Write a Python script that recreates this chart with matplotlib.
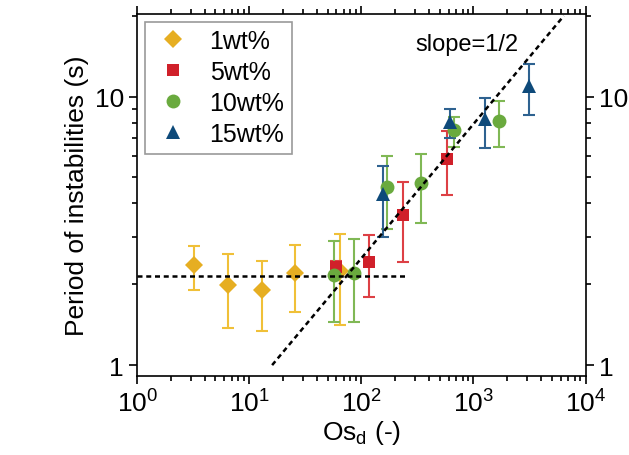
import matplotlib
matplotlib.use("Agg")
import matplotlib.pyplot as plt
import numpy as np

plt.rcParams['font.family'] = ['Liberation Sans', 'DejaVu Sans']

# data: Os_d, period, error bar low/high
os_1 = [3.2, 6.5, 13.0, 25.7, 64.5]
t_1 = [2.35, 1.99, 1.90, 2.21, 2.25]
lo_1 = [1.91, 1.38, 1.34, 1.58, 1.41]
hi_1 = [2.77, 2.60, 2.45, 2.81, 3.08]

os_5 = [59.4, 118, 236, 586]
t_5 = [2.32, 2.43, 3.63, 5.87]
lo_5 = [2.15, 1.79, 2.42, 4.30]
hi_5 = [2.45, 3.05, 4.82, 7.42]

os_10 = [56.6, 85.4, 171, 341, 667, 1683]
t_10 = [2.16, 2.20, 4.62, 4.75, 7.49, 8.09]
lo_10 = [1.45, 1.45, 3.20, 3.37, 6.51, 6.48]
hi_10 = [2.89, 2.94, 5.99, 6.13, 8.40, 9.61]

os_15 = [157, 620, 1262, 3119]
t_15 = [4.33, 8.07, 8.28, 10.95]
lo_15 = [3.01, 7.03, 6.46, 8.54]
hi_15 = [5.51, 9.02, 9.91, 13.2]

# reference lines
plateau = 2.15
plateau_x = [1, 250]
slope_x = [16, 6400]
slope_y0 = 1.0  # value at x = 16

fig = plt.figure(figsize=(6.29, 4.56), dpi=100)
ax = fig.add_axes([0.218, 0.173, 0.713, 0.794])

series = [
    (os_1, t_1, lo_1, hi_1, 'D', '#E6AE22', '#F0C038', '1wt%', 9),
    (os_5, t_5, lo_5, hi_5, 's', '#D0202A', '#DD4045', '5wt%', 9),
    (os_10, t_10, lo_10, hi_10, 'o', '#6AAA3E', '#80B855', '10wt%', 10),
    (os_15, t_15, lo_15, hi_15, '^', '#0E4A7A', '#2E6290', '15wt%', 10),
]

for xs, ys, lo, hi, m, c, ec, lab, ms in series:
    ys = np.array(ys)
    err = [ys - np.array(lo), np.array(hi) - ys]
    ax.errorbar(xs, ys, yerr=err, fmt='none', ecolor=ec, elinewidth=1.5,
                capsize=4, capthick=1.5, zorder=2)
    ax.plot(xs, ys, m, color=c, markersize=ms, label=lab, zorder=3,
            markeredgewidth=0)

ax.plot(plateau_x, [plateau, plateau], 'k--', lw=1.8, dashes=(2, 1.5), zorder=4)
sx = np.array(slope_x)
ax.plot(sx, slope_y0 * (sx / slope_x[0]) ** 0.5, 'k--', lw=1.8,
        dashes=(2, 1.5), zorder=4)

ax.text(866, 15.7, 'slope=1/2', fontsize=17, ha='center', va='center')

ax.set_xscale('log')
ax.set_yscale('log')
ax.set_xlim(1, 1e4)
ax.set_ylim(0.91, 20.3)
ax.set_xticks([1, 10, 100, 1000, 10000])
ax.set_yticks([1, 10])
ax.set_yticklabels(['1', '10'])
ax.tick_params(which='both', direction='out', top=True, right=True,
               labelright=True, labelsize=19, width=1.2)
ax.tick_params(which='major', length=6)
ax.tick_params(which='minor', length=3.5)
for s in ax.spines.values():
    s.set_linewidth(1.2)

ax.set_xlabel('Os$_\\mathregular{d}$ (-)', fontsize=19, labelpad=1)
ax.set_ylabel('Period of instabilities (s)', fontsize=19, labelpad=4)

leg = ax.legend(loc='upper left', fontsize=18, frameon=True, fancybox=False,
                edgecolor='#808080', borderpad=0.3, handletextpad=0.6,
                labelspacing=0.28, handlelength=1.7, borderaxespad=0.3)
leg.get_frame().set_linewidth(1.2)

fig.savefig('out.png', dpi=100)
